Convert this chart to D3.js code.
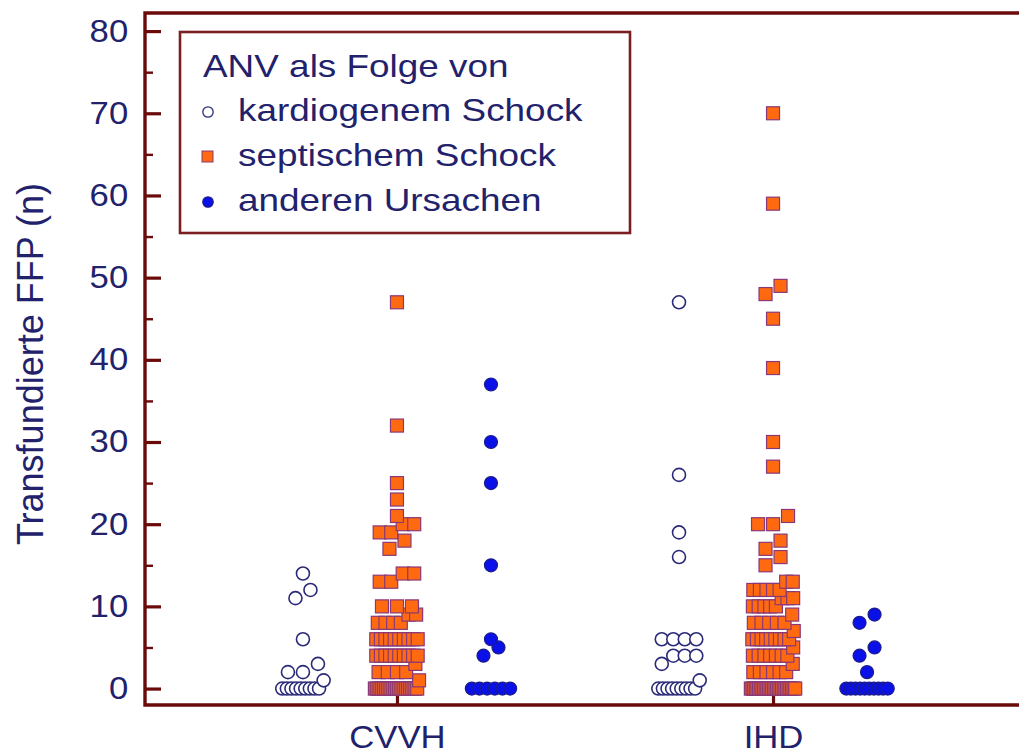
<!DOCTYPE html>
<html>
<head>
<meta charset="utf-8">
<script src="https://cdn.jsdelivr.net/npm/d3@7"></script>
<style>
  html, body { margin: 0; padding: 0; background: #ffffff; }
  svg { display: block; font-family: "Liberation Sans", Arial, sans-serif; }
</style>
</head>
<body>
<svg id="chart" width="1019" height="756"></svg>
<script>
// ---- categories, labels ----
const groups = ["CVVH", "IHD"];
const seriesKeys = ["kardiogen", "septisch", "andere"];
const legendTitle = "ANV als Folge von";
const legendLabels = ["kardiogenem Schock", "septischem Schock", "anderen Ursachen"];
const yMajorTicks = [0, 10, 20, 30, 40, 50, 60, 70, 80];
const yMinorTicks = [5, 15, 25, 35, 45, 55, 65, 75];
const yTitle = "Transfundierte FFP (n)";

// ---- transfused FFP units per patient ----
const cvvhKardiogen = [0, 0, 0, 0, 0, 0, 0, 0, 0, 1, 2, 2, 3, 6, 11, 12, 14];
const cvvhSeptisch = [
  0, 0, 0, 0, 0, 0, 0, 0, 0, 0, 0, 0, 0, 0, 0, 0, 0, 0, 0, 0, 0, 0, 0, 0, 1,
  2, 2, 2, 2, 3,
  4, 4, 4, 4, 4, 4, 4, 4, 4, 4,
  6, 6, 6, 6, 6, 6, 6, 6, 6, 6,
  8, 8, 8, 8, 9, 9, 10, 10, 10,
  13, 13, 14, 14, 17, 18, 19, 19, 20, 20, 21, 23, 25, 32, 47
];
const cvvhAndere = [0, 0, 0, 0, 0, 0, 4, 5, 6, 15, 25, 30, 37];

const ihdKardiogen = [0, 0, 0, 0, 0, 0, 0, 0, 0, 1, 3, 4, 4, 4, 6, 6, 6, 6, 16, 19, 26, 47];
const ihdSeptisch = [
  0, 0, 0, 0, 0, 0, 0, 0, 0, 0, 0, 0, 0, 0, 0, 0, 0, 0, 0, 0, 0, 0, 0, 0, 0, 0, 0, 0,
  2, 2, 2, 2, 2, 2, 3,
  4, 4, 4, 4, 4, 4, 4, 5,
  6, 6, 6, 6, 6, 6, 6, 6, 6, 7,
  8, 8, 8, 8, 8, 9,
  10, 10, 10, 10, 10, 11, 11, 11,
  12, 12, 12, 12, 12, 13, 13,
  15, 16, 17, 18, 20, 20, 21, 27, 30, 39, 45, 48, 49, 59, 70
];
const ihdAndere = [0, 0, 0, 0, 0, 0, 0, 0, 0, 0, 2, 4, 5, 8, 9];

// lookup built from the arrays above
const dataByGroup = {
  CVVH: { kardiogen: cvvhKardiogen, septisch: cvvhSeptisch, andere: cvvhAndere },
  IHD:  { kardiogen: ihdKardiogen,  septisch: ihdSeptisch,  andere: ihdAndere }
};

// ---- style ----
const axisColor = "#6a0a0a";
const textColor = "#22226c";
const squareFill = "#ff6a10";
const squareStroke = "#8a3878";
const openStroke = "#2a2a78";
const dotFill = "#0a10e8";
const dotStroke = "#1c1c88";

const frame = { left: 145, right: 1025, top: 13, bottom: 705 };
const markerSize = 13;

const svg = d3.select("#chart");

const y = d3.scaleLinear().domain([-2, 82.2]).range([frame.bottom, frame.top]);
const x = d3.scalePoint().domain(groups).range([frame.left, frame.right]).padding(0.67);
const sub = d3.scalePoint().domain(seriesKeys).range([-x.step() / 4, x.step() / 4]);

// ---- dot-plot layout: near values share a row, centred on the column ----
const binWidth = 1.5;   // values closer than this share one row
const maxStep = 15;     // px between neighbours in a short row
const rowWidth = 46;    // px budget for a crowded row

function layoutColumn(values, cx) {
  const sorted = values.slice().sort((a, b) => a - b);
  const bins = [];
  sorted.forEach(v => {
    const last = bins[bins.length - 1];
    if (last && v - last[0] < binWidth) last.push(v);
    else bins.push([v]);
  });
  const pts = [];
  bins.forEach(bin => {
    const n = bin.length;
    const step = Math.min(maxStep, rowWidth / n);
    bin.forEach((v, i) => pts.push({ v, x: cx + (i - (n - 1) / 2) * step }));
  });
  return pts;
}

// ---- frame ----
const frameG = svg.append("g")
  .attr("stroke", axisColor).attr("stroke-width", 3.4).attr("fill", "none");
frameG.append("path")
  .attr("d", `M${frame.right},${frame.top}H${frame.left}V${frame.bottom}H${frame.right}`)
  .attr("stroke-linecap", "square");

// ---- y axis (ticks point inward) ----
const yAxis = d3.axisLeft(y).tickValues(yMajorTicks).tickSize(-16).tickPadding(15)
  .tickFormat(d3.format("d"));
const gy = svg.append("g").attr("transform", `translate(${frame.left},0)`).call(yAxis);
gy.select(".domain").remove();
gy.selectAll(".tick line").attr("stroke", axisColor).attr("stroke-width", 3.2);
gy.selectAll(".tick text")
  .attr("font-size", 31).attr("fill", textColor)
  .attr("font-family", "Liberation Sans, Arial, sans-serif")
  .attr("transform", "scale(1.12,1)");

const gyMinor = svg.append("g").attr("transform", `translate(${frame.left},0)`)
  .call(d3.axisLeft(y).tickValues(yMinorTicks).tickSize(-8).tickFormat(""));
gyMinor.select(".domain").remove();
gyMinor.selectAll(".tick line").attr("stroke", axisColor).attr("stroke-width", 2.4);

// ---- x axis ----
const xAxis = d3.axisBottom(x).tickSize(-12).tickPadding(21);
const gx = svg.append("g").attr("transform", `translate(0,${frame.bottom})`).call(xAxis);
gx.select(".domain").remove();
gx.selectAll(".tick line").attr("stroke", axisColor).attr("stroke-width", 3.2);
gx.selectAll(".tick text")
  .attr("font-size", 31).attr("fill", textColor)
  .attr("font-family", "Liberation Sans, Arial, sans-serif")
  .attr("transform", "scale(1.12,1)");

// ---- y title ----
svg.append("text")
  .attr("transform", `translate(43,${(y(-2) + y(82.2)) / 2 + 5}) rotate(-90)`)
  .attr("text-anchor", "middle")
  .attr("font-size", 36)
  .attr("fill", textColor)
  .text(yTitle);

// ---- points ----
const plot = svg.append("g");
groups.forEach(g => {
  seriesKeys.forEach(key => {
    const cx = x(g) + sub(key);
    const pts = layoutColumn(dataByGroup[g][key], cx);
    const sel = plot.append("g").attr("class", `${g}-${key}`);
    if (key === "septisch") {
      sel.selectAll("rect").data(pts).join("rect")
        .attr("x", d => d.x - markerSize / 2)
        .attr("y", d => y(d.v) - markerSize / 2)
        .attr("width", markerSize).attr("height", markerSize)
        .attr("fill", squareFill).attr("stroke", squareStroke).attr("stroke-width", 1.2);
    } else {
      const filled = key === "andere";
      sel.selectAll("circle").data(pts).join("circle")
        .attr("cx", d => d.x).attr("cy", d => y(d.v)).attr("r", markerSize / 2)
        .attr("fill", filled ? dotFill : "#ffffff")
        .attr("stroke", filled ? dotStroke : openStroke)
        .attr("stroke-width", filled ? 1.2 : 1.6);
    }
  });
});

// ---- legend ----
const legend = svg.append("g");
legend.append("rect")
  .attr("x", 180).attr("y", 32).attr("width", 450).attr("height", 201)
  .attr("fill", "#ffffff").attr("stroke", "#7a1e22").attr("stroke-width", 2.6);
legend.append("text")
  .attr("transform", "translate(203,77) scale(1.21,1)")
  .attr("font-size", 30.5).attr("fill", textColor)
  .text(legendTitle);

const legendRows = [121, 166, 211];
legendLabels.forEach((label, i) => {
  const yy = legendRows[i];
  legend.append("text")
    .attr("transform", `translate(238,${yy}) scale(1.21,1)`)
    .attr("font-size", 30.5).attr("fill", textColor)
    .text(label);
  const key = seriesKeys[i];
  const sy = yy - 9;
  if (key === "septisch") {
    legend.append("rect")
      .attr("x", 202).attr("y", sy - 6).attr("width", 11).attr("height", 11)
      .attr("fill", squareFill).attr("stroke", squareStroke).attr("stroke-width", 1);
  } else {
    legend.append("circle")
      .attr("cx", 208).attr("cy", sy).attr("r", 5.2)
      .attr("fill", key === "andere" ? dotFill : "#ffffff")
      .attr("stroke", key === "andere" ? dotStroke : openStroke)
      .attr("stroke-width", 1.3);
  }
});
</script>
</body>
</html>
